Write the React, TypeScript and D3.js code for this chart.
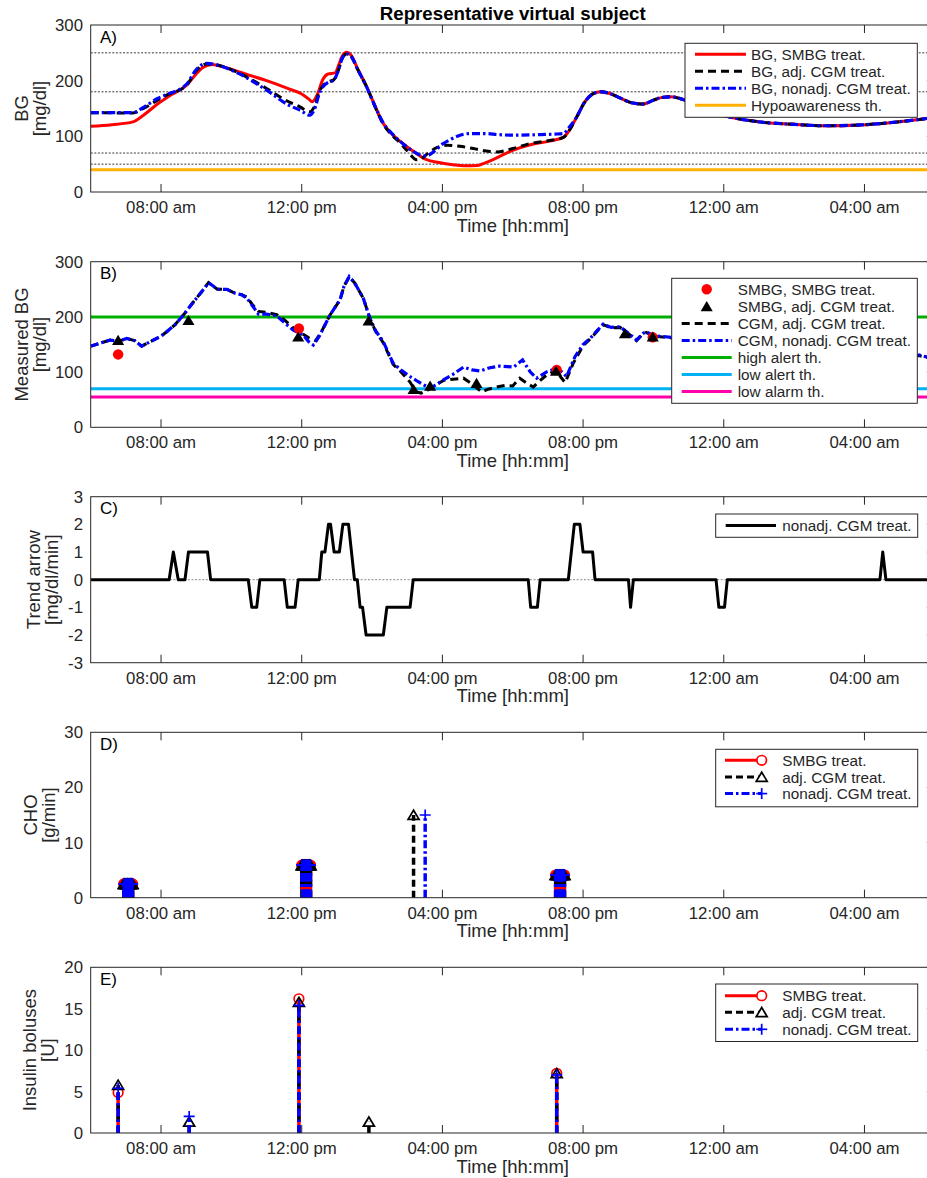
import React from 'react';
import * as d3 from 'd3';

type Pt = [number, number];

// time axis, hours from midnight of the first day
const timeDomain: [number, number] = [6, 30];
const timeTicks = [8, 12, 16, 20, 24, 28];
const timeTickLabels = ['08:00 am', '12:00 pm', '04:00 pm', '08:00 pm', '12:00 am', '04:00 am'];

// A) blood glucose
const bgSmbgHead: Pt[] = [
  [6.0, 118], [6.6, 121], [7.2, 126], [7.5, 138], [7.9, 158], [8.3, 175], [8.73, 192], [9.0, 212],
  [9.2, 224], [9.45, 229], [9.8, 224], [10.4, 212], [11.0, 200], [11.6, 186], [12.0, 176], [12.2, 167],
  [12.3, 162], [12.45, 176], [12.6, 202], [12.75, 212], [12.95, 214], [13.05, 228], [13.15, 244],
  [13.28, 251], [13.4, 246], [13.6, 220], [13.85, 189], [14.1, 152], [14.3, 125], [14.55, 105],
  [14.8, 91], [15.2, 72], [15.55, 58], [15.9, 53], [16.3, 49], [16.6, 47], [17.0, 47.5], [17.2, 52],
  [17.5, 60], [18.0, 75], [18.5, 85], [19.0, 91], [19.44, 98], [19.6, 110],
];
const bgAdjHead: Pt[] = [
  [6.0, 142.5], [7.2, 142], [7.5, 150], [7.9, 165], [8.16, 174], [8.73, 192], [9.0, 218], [9.3, 230],
  [9.6, 228], [10.2, 214], [11.0, 186], [11.6, 163], [11.95, 153], [12.23, 144], [12.35, 152],
  [12.52, 183], [12.75, 198], [12.9, 201], [13.05, 220], [13.15, 240], [13.28, 248], [13.4, 244],
  [13.6, 219], [13.85, 188], [14.1, 151], [14.3, 124], [14.55, 103], [14.8, 88], [15.0, 74],
  [15.27, 58], [15.4, 60], [15.6, 70], [15.85, 80], [16.12, 84], [16.5, 82], [16.88, 78], [17.2, 74],
  [17.54, 72], [18.0, 78], [18.49, 87], [19.0, 92], [19.44, 98], [19.6, 110],
];
const bgNonadjHead: Pt[] = [
  [6.0, 142.5], [7.2, 142.5], [7.5, 152], [7.9, 168], [8.16, 175], [8.73, 194], [9.0, 220], [9.3, 231],
  [9.6, 228], [10.2, 213], [11.0, 183], [11.6, 157], [11.95, 147], [12.23, 138], [12.35, 147],
  [12.52, 180], [12.75, 197], [12.9, 200], [13.05, 220], [13.15, 240], [13.28, 248], [13.4, 244],
  [13.6, 219], [13.85, 188], [14.1, 152], [14.3, 126], [14.55, 106], [14.8, 91], [15.1, 76],
  [15.35, 67], [15.55, 65], [15.8, 75], [16.0, 86], [16.22, 94], [16.5, 102], [16.79, 105],
  [17.2, 105], [17.6, 103], [18.0, 102], [18.7, 103], [19.2, 104], [19.44, 105], [19.6, 116],
];
const bgCommonTail: Pt[] = [
  [19.82, 135], [20.05, 162], [20.3, 177], [20.5, 180], [20.8, 176], [21.05, 169], [21.4, 160],
  [21.7, 158], [22.0, 165], [22.25, 170], [22.5, 171], [22.8, 167], [23.2, 156], [23.6, 145],
  [24.08, 136], [25.0, 126], [26.0, 121.5], [26.9, 119], [27.9, 120.5], [28.8, 125], [29.77, 132], [30.0, 134],
];
const bgDottedLevels = [250, 180, 70, 50];
const hypoawarenessTh = 40;

// B) measured glucose
const cgmNonadj: Pt[] = [
  [6.0, 147], [6.3, 153], [6.55, 158], [6.8, 156], [7.02, 161], [7.25, 157], [7.45, 147], [7.6, 152],
  [7.78, 158], [8.0, 165], [8.16, 173], [8.4, 186], [8.63, 203], [8.92, 227], [9.15, 245], [9.35, 262],
  [9.5, 255], [9.6, 250], [9.87, 250], [10.1, 243], [10.3, 240], [10.44, 234], [10.6, 220], [10.77, 205],
  [11.0, 205], [11.29, 202], [11.5, 190], [11.76, 176], [12.05, 167], [12.2, 155], [12.33, 149],
  [12.5, 165], [12.8, 203], [13.09, 231], [13.2, 255], [13.35, 273], [13.5, 262], [13.75, 234],
  [13.94, 197], [14.1, 175], [14.32, 155], [14.6, 116], [14.8, 105], [15.08, 92], [15.3, 83],
  [15.46, 77], [15.65, 71], [15.85, 78], [16.03, 86], [16.3, 96], [16.6, 109], [16.85, 104],
  [17.07, 102], [17.35, 108], [17.64, 111], [17.85, 110], [18.02, 109], [18.28, 122], [18.5, 100],
  [18.68, 89], [18.95, 100], [19.25, 107], [19.4, 100], [19.53, 92], [19.77, 128], [20.0, 150],
  [20.2, 161], [20.4, 175], [20.57, 187], [20.8, 181], [21.05, 182], [21.3, 170], [21.52, 158],
  [21.7, 170], [21.8, 173], [22.0, 166], [22.19, 165], [22.5, 163], [23.5, 140], [24.5, 128],
  [26.0, 120], [27.5, 121], [28.8, 126], [29.55, 131], [29.8, 127], [30.0, 126],
];
const cgmAdj: Pt[] = [
  [6.0, 147], [6.3, 153], [6.55, 158], [6.8, 156], [7.02, 161], [7.25, 157], [7.45, 147], [7.6, 152],
  [7.78, 158], [8.0, 165], [8.16, 173], [8.4, 186], [8.63, 203], [8.92, 227], [9.15, 245], [9.35, 262],
  [9.5, 255], [9.6, 250], [9.87, 250], [10.1, 243], [10.3, 240], [10.44, 236], [10.6, 222], [10.77, 210],
  [11.0, 208], [11.29, 204], [11.5, 195], [11.76, 180], [12.05, 168], [12.2, 162], [12.4, 157],
  [12.6, 178], [12.8, 203], [13.09, 231], [13.2, 255], [13.35, 273], [13.5, 262], [13.75, 234],
  [13.94, 197], [14.1, 174], [14.32, 153], [14.6, 114], [14.8, 102], [15.08, 82], [15.25, 64],
  [15.4, 62], [15.6, 68], [15.85, 78], [16.03, 85], [16.3, 87], [16.6, 89], [16.85, 78], [17.12, 64],
  [17.3, 69], [17.54, 73], [17.8, 76], [18.0, 75], [18.2, 89], [18.4, 80], [18.58, 73], [18.8, 86],
  [18.97, 95], [19.25, 104], [19.35, 92], [19.49, 81], [19.72, 116], [20.0, 148], [20.2, 160],
  [20.4, 174], [20.57, 186], [20.8, 180], [21.05, 181], [21.3, 169], [21.52, 157], [21.7, 169],
  [21.8, 172], [22.0, 165], [22.19, 164], [22.5, 162], [23.5, 139], [24.5, 127], [26.0, 119],
  [27.5, 120], [28.8, 125], [29.55, 130], [29.8, 126], [30.0, 125],
];
const smbgSmbgTimes = [6.78, 11.92, 19.25, 21.98];
const smbgSmbgValues = [132, 179, 104, 163];
const smbgAdjTimes = [6.78, 8.78, 11.9, 13.9, 15.18, 15.65, 16.97, 19.23, 21.19, 21.98];
const smbgAdjValues = [158, 194, 164, 193, 69, 75, 80, 102, 170, 164];
const highAlertTh = 200;
const lowAlertTh = 70;
const lowAlarmTh = 55;

// C) trend arrow
const trendArrow: Pt[] = [
  [6, 0], [8.23, 0], [8.35, 1], [8.49, 0], [8.68, 0], [8.78, 1], [9.32, 1], [9.41, 0], [10.48, 0],
  [10.58, -1], [10.72, -1], [10.81, 0], [11.5, 0], [11.59, -1], [11.81, -1], [11.9, 0], [12.5, 0],
  [12.57, 1], [12.66, 1], [12.76, 2], [12.82, 2], [12.92, 1], [13.07, 1], [13.17, 2], [13.33, 2],
  [13.5, 0], [13.58, 0], [13.66, -1], [13.73, -1], [13.83, -2], [14.32, -2], [14.42, -1], [15.08, -1],
  [15.17, 0], [18.44, 0], [18.51, -1], [18.7, -1], [18.78, 0], [19.58, 0], [19.75, 2], [19.91, 2],
  [20.0, 1], [20.27, 1], [20.34, 0], [21.29, 0], [21.35, -1], [21.43, 0], [23.78, 0], [23.86, -1],
  [24.02, -1], [24.1, 0], [28.44, 0], [28.52, 1], [28.61, 0], [30, 0],
];

// D) carbohydrate intake: start time [h], duration [min], rate [g/min]
const choSmbgStart = [6.94, 12.0, 19.22];
const choSmbgMinutes = [16, 16, 16];
const choSmbgRate = [2.5, 5.9, 4.1];
const choAdjStart = [6.94, 12.0, 15.18, 19.22];
const choAdjMinutes = [16, 16, 1, 16];
const choAdjRate = [2.5, 5.9, 15, 4.1];
const choNonadjStart = [6.94, 12.0, 15.51, 19.22];
const choNonadjMinutes = [16, 16, 1, 16];
const choNonadjRate = [2.5, 5.9, 15, 4.1];

// E) insulin boluses
const bolusSmbgTimes = [6.78, 11.92, 19.25];
const bolusSmbgU = [4.9, 16.2, 7.2];
const bolusAdjTimes = [6.78, 8.8, 11.92, 13.91, 19.25];
const bolusAdjU = [5.8, 1.35, 15.8, 1.35, 7.2];
const bolusNonadjTimes = [6.78, 8.8, 11.92, 19.25];
const bolusNonadjU = [5.4, 2.0, 15.4, 7.0];

const W = 927;
const H = 1178;
const X0 = 90.7;
const X1 = 934.8;
const FONT = '"Liberation Sans", Arial, Helvetica, sans-serif';
const INK = '#262626';
const RED = '#ff0000';
const BLUE = '#0000ff';
const DASH = '8,5';
const DASHDOT = '8,3,2.5,3';

const x = d3.scaleLinear().domain(timeDomain).range([X0, X1]);

const tri = (cx: number, cy: number, s = 1) =>
  `M${cx},${cy - 4.8 * s}L${cx + 5.5 * s},${cy + 4.4 * s}L${cx - 5.5 * s},${cy + 4.4 * s}Z`;

function Plus({ cx, cy }: { cx: number; cy: number }) {
  return (
    <g stroke={BLUE} strokeWidth={1.7}>
      <line x1={cx - 5.5} x2={cx + 5.5} y1={cy} y2={cy} />
      <line x1={cx} x2={cx} y1={cy - 5.5} y2={cy + 5.5} />
    </g>
  );
}

function Frame(props: {
  id: string; top: number; bottom: number; y: d3.ScaleLinear<number, number>;
  ticks: number[]; label: [string, string]; lx: number; letter: string;
  children: React.ReactNode; legend?: React.ReactNode;
}) {
  const { id, top, bottom, y, ticks, label, lx, letter } = props;
  const cy = (top + bottom) / 2;
  return (
    <g fontFamily={FONT} fill={INK}>
      <defs>
        <clipPath id={id}>
          <rect x={X0} y={top} width={X1 - X0} height={bottom - top} />
        </clipPath>
      </defs>
      <g clipPath={`url(#${id})`}>{props.children}</g>
      <rect x={X0} y={top} width={X1 - X0} height={bottom - top} fill="none" stroke={INK} strokeWidth={1} />
      {timeTicks.map((t) => (
        <g key={t} stroke={INK} strokeWidth={1}>
          <line x1={x(t)} x2={x(t)} y1={top} y2={top + 8} />
          <line x1={x(t)} x2={x(t)} y1={bottom} y2={bottom - 8} />
        </g>
      ))}
      {ticks.map((v) => (
        <line key={'r' + v} x1={X1 - 8} x2={X1} y1={y(v)} y2={y(v)} stroke={INK} strokeWidth={1} />
      ))}
      {ticks.map((v) => (
        <text key={'l' + v} x={83} y={y(v)} dy="0.36em" textAnchor="end" fontSize={16.8}>
          {String(v)}
        </text>
      ))}
      {timeTicks.map((t, i) => (
        <text key={'t' + t} x={x(t)} y={bottom + 21} textAnchor="middle" fontSize={16.8}>
          {timeTickLabels[i]}
        </text>
      ))}
      <text x={(X0 + X1) / 2} y={bottom + 39.5} textAnchor="middle" fontSize={18.5}>Time [hh:mm]</text>
      <text transform={`translate(${lx - 18},${cy}) rotate(-90)`} textAnchor="middle" fontSize={18.5}>{label[0]}</text>
      <text transform={`translate(${lx},${cy}) rotate(-90)`} textAnchor="middle" fontSize={18.5}>{label[1]}</text>
      <text x={100} y={top + 17.5} fontSize={17} fill="#000">{letter}</text>
      {props.legend}
    </g>
  );
}

function LegendBox({ x0, x1, y0, y1, children }: { x0: number; x1: number; y0: number; y1: number; children: React.ReactNode }) {
  return (
    <g fontFamily={FONT}>
      <rect x={x0} y={y0} width={x1 - x0} height={y1 - y0} fill="#fff" stroke={INK} strokeWidth={1} />
      {children}
    </g>
  );
}

function stemsOf(starts: number[], minutes: number[], rates: number[]) {
  const out: Pt[] = [];
  starts.forEach((s, i) => {
    for (let m = 0; m < minutes[i]; m++) out.push([s + m / 60, rates[i]]);
  });
  return out;
}

function StemSet(props: { pts: Pt[]; y: d3.ScaleLinear<number, number>; kind: 'smbg' | 'adj' | 'nonadj' }) {
  const { pts, y, kind } = props;
  const y0 = y(0);
  const color = kind === 'smbg' ? RED : kind === 'adj' ? '#000' : BLUE;
  const dash = kind === 'smbg' ? undefined : kind === 'adj' ? '7,4' : DASHDOT;
  return (
    <g>
      {pts.map((p, i) => (
        <line key={'s' + i} x1={x(p[0])} x2={x(p[0])} y1={y0} y2={y(p[1])} stroke={color}
          strokeWidth={3.5} strokeDasharray={dash} />
      ))}
      {pts.map((p, i) =>
        kind === 'smbg' ? (
          <circle key={'m' + i} cx={x(p[0])} cy={y(p[1])} r={4.8} fill="none" stroke={RED} strokeWidth={1.7} />
        ) : kind === 'adj' ? (
          <path key={'m' + i} d={tri(x(p[0]), y(p[1]))} fill="none" stroke="#000" strokeWidth={1.7} />
        ) : (
          <Plus key={'m' + i} cx={x(p[0])} cy={y(p[1])} />
        )
      )}
    </g>
  );
}

function TreatLegend({ y0, rows }: { y0: number; rows: number[] }) {
  const lx0 = 725;
  const lx1 = 761.7;
  const tx = 782.3;
  return (
    <LegendBox x0={715.7} x1={917.7} y0={y0} y1={y0 + 57.5}>
      <line x1={lx0} x2={lx1} y1={rows[0]} y2={rows[0]} stroke={RED} strokeWidth={3} />
      <circle cx={lx1} cy={rows[0]} r={4.8} fill="#fff" stroke={RED} strokeWidth={1.7} />
      <line x1={lx0} x2={lx1} y1={rows[1]} y2={rows[1]} stroke="#000" strokeWidth={3} strokeDasharray="7,4" />
      <path d={tri(lx1, rows[1])} fill="#fff" stroke="#000" strokeWidth={1.7} />
      <line x1={lx0} x2={lx1} y1={rows[2]} y2={rows[2]} stroke={BLUE} strokeWidth={3} strokeDasharray={DASHDOT} />
      <Plus cx={lx1} cy={rows[2]} />
      {['SMBG treat.', 'adj. CGM treat.', 'nonadj. CGM treat.'].map((s, i) => (
        <text key={s} x={tx} y={rows[i]} dy="0.36em" fontSize={15.3} fill={INK}>{s}</text>
      ))}
    </LegendBox>
  );
}

export default function App() {
  // A
  const yA = d3.scaleLinear().domain([0, 300]).range([192, 25]);
  const lineA = d3.line<Pt>().x((d) => x(d[0])).y((d) => yA(d[1])).curve(d3.curveMonotoneX);
  // B
  const yB = d3.scaleLinear().domain([0, 300]).range([427.3, 261.7]);
  const lineB = d3.line<Pt>().x((d) => x(d[0])).y((d) => yB(d[1]));
  // C
  const yC = d3.scaleLinear().domain([-3, 3]).range([662.7, 496.7]);
  const lineC = d3.line<Pt>().x((d) => x(d[0])).y((d) => yC(d[1]));
  // D
  const yD = d3.scaleLinear().domain([0, 30]).range([897.7, 732.3]);
  // E
  const yE = d3.scaleLinear().domain([0, 20]).range([1133, 967.3]);

  const hline = (y: number, color: string, w: number, dash?: string, key?: string) => (
    <line key={key} x1={X0} x2={X1} y1={y} y2={y} stroke={color} strokeWidth={w} strokeDasharray={dash} />
  );

  const aRows = [54.3, 71.2, 88.2, 105.2];
  const bRows = [289.3, 306.4, 323.4, 340.4, 357.5, 374.6, 391.6];

  return (
    <svg width={W} height={H} viewBox={`0 0 ${W} ${H}`}
      style={{ position: 'absolute', left: 0, top: 0, background: '#fff' }}>
      <rect x={0} y={0} width={W} height={H} fill="#fff" />
      <text x={(X0 + X1) / 2} y={19.5} textAnchor="middle" fontFamily={FONT} fontWeight="bold" fontSize={18.7} fill="#000">
        Representative virtual subject
      </text>

      {/* A */}
      <Frame id="clipA" top={25} bottom={192} y={yA} ticks={[0, 100, 200, 300]} label={['BG', '[mg/dl]']} lx={45.5} letter="A)"
        legend={
          <LegendBox x0={685} x1={917.3} y0={43.3} y1={117.3}>
            <line x1={695} x2={746} y1={aRows[0]} y2={aRows[0]} stroke={RED} strokeWidth={3} />
            <line x1={695} x2={746} y1={aRows[1]} y2={aRows[1]} stroke="#000" strokeWidth={3} strokeDasharray={DASH} />
            <line x1={695} x2={746} y1={aRows[2]} y2={aRows[2]} stroke={BLUE} strokeWidth={3} strokeDasharray={DASHDOT} />
            <line x1={695} x2={746} y1={aRows[3]} y2={aRows[3]} stroke="#ffb000" strokeWidth={3} />
            {['BG, SMBG treat.', 'BG, adj. CGM treat.', 'BG, nonadj. CGM treat.', 'Hypoawareness th.'].map((s, i) => (
              <text key={s} x={751} y={aRows[i]} dy="0.36em" fontSize={15.3} fill={INK}>{s}</text>
            ))}
          </LegendBox>
        }>
        {bgDottedLevels.map((v) => hline(yA(v), '#222', 0.9, '2,1.6', 'd' + v))}
        {hline(yA(hypoawarenessTh), '#ffb000', 3)}
        <path d={lineA(bgSmbgHead.concat(bgCommonTail)) || ''} fill="none" stroke={RED} strokeWidth={3} />
        <path d={lineA(bgAdjHead.concat(bgCommonTail)) || ''} fill="none" stroke="#000" strokeWidth={3} strokeDasharray={DASH} />
        <path d={lineA(bgNonadjHead.concat(bgCommonTail)) || ''} fill="none" stroke={BLUE} strokeWidth={3.2} strokeDasharray={DASHDOT} />
      </Frame>

      {/* B */}
      <Frame id="clipB" top={261.7} bottom={427.3} y={yB} ticks={[0, 100, 200, 300]} label={['Measured BG', '[mg/dl]']} lx={45.5} letter="B)"
        legend={
          <LegendBox x0={671.7} x1={917.3} y0={278.3} y1={403.3}>
            <circle cx={706.7} cy={bRows[0]} r={5.2} fill={RED} />
            <path d={tri(706.7, bRows[1], 1.1)} fill="#000" />
            <line x1={681.7} x2={731.7} y1={bRows[2]} y2={bRows[2]} stroke="#000" strokeWidth={3} strokeDasharray={DASH} />
            <line x1={681.7} x2={731.7} y1={bRows[3]} y2={bRows[3]} stroke={BLUE} strokeWidth={3} strokeDasharray={DASHDOT} />
            <line x1={681.7} x2={731.7} y1={bRows[4]} y2={bRows[4]} stroke="#00b000" strokeWidth={3} />
            <line x1={681.7} x2={731.7} y1={bRows[5]} y2={bRows[5]} stroke="#00b2f5" strokeWidth={3} />
            <line x1={681.7} x2={731.7} y1={bRows[6]} y2={bRows[6]} stroke="#ff00aa" strokeWidth={3} />
            {['SMBG, SMBG treat.', 'SMBG, adj. CGM treat.', 'CGM, adj. CGM treat.', 'CGM, nonadj. CGM treat.',
              'high alert th.', 'low alert th.', 'low alarm th.'].map((s, i) => (
              <text key={s} x={737.7} y={bRows[i]} dy="0.36em" fontSize={15.3} fill={INK}>{s}</text>
            ))}
          </LegendBox>
        }>
        {hline(yB(highAlertTh), '#00b000', 3)}
        {hline(yB(lowAlertTh), '#00b2f5', 3)}
        {hline(yB(lowAlarmTh), '#ff00aa', 3)}
        <path d={lineB(cgmAdj) || ''} fill="none" stroke="#000" strokeWidth={3} strokeDasharray={DASH} />
        <path d={lineB(cgmNonadj) || ''} fill="none" stroke={BLUE} strokeWidth={3.2} strokeDasharray={DASHDOT} />
        {smbgSmbgTimes.map((t, i) => (
          <circle key={'r' + i} cx={x(t)} cy={yB(smbgSmbgValues[i])} r={5.2} fill={RED} />
        ))}
        {smbgAdjTimes.map((t, i) => (
          <path key={'k' + i} d={tri(x(t), yB(smbgAdjValues[i]), 1.1)} fill="#000" />
        ))}
      </Frame>

      {/* C */}
      <Frame id="clipC" top={496.7} bottom={662.7} y={yC} ticks={[-3, -2, -1, 0, 1, 2, 3]} label={['Trend arrow', '[mg/dl/min]']} lx={58} letter="C)"
        legend={
          <LegendBox x0={715.7} x1={917.7} y0={514} y1={537.3}>
            <line x1={725.7} x2={776} y1={525.6} y2={525.6} stroke="#000" strokeWidth={3} />
            <text x={782.3} y={525.6} dy="0.36em" fontSize={15.3} fill={INK}>nonadj. CGM treat.</text>
          </LegendBox>
        }>
        {hline(yC(0), '#888', 1, '2,1.6')}
        <path d={lineC(trendArrow) || ''} fill="none" stroke="#000" strokeWidth={3} strokeLinejoin="round" />
      </Frame>

      {/* D */}
      <Frame id="clipD" top={732.3} bottom={897.7} y={yD} ticks={[0, 10, 20, 30]} label={['CHO', '[g/min]']} lx={54.5} letter="D)"
        legend={<TreatLegend y0={749.3} rows={[760.3, 777, 793.6]} />}>
        <StemSet pts={stemsOf(choSmbgStart, choSmbgMinutes, choSmbgRate)} y={yD} kind="smbg" />
        <StemSet pts={stemsOf(choAdjStart, choAdjMinutes, choAdjRate)} y={yD} kind="adj" />
        <StemSet pts={stemsOf(choNonadjStart, choNonadjMinutes, choNonadjRate)} y={yD} kind="nonadj" />
      </Frame>

      {/* E */}
      <Frame id="clipE" top={967.3} bottom={1133} y={yE} ticks={[0, 5, 10, 15, 20]} label={['Insulin boluses', '[U]']} lx={53.5} letter="E)"
        legend={<TreatLegend y0={984} rows={[995.7, 1012.3, 1029.3]} />}>
        <StemSet pts={bolusSmbgTimes.map((t, i) => [t, bolusSmbgU[i]] as Pt)} y={yE} kind="smbg" />
        <StemSet pts={bolusAdjTimes.map((t, i) => [t, bolusAdjU[i]] as Pt)} y={yE} kind="adj" />
        <StemSet pts={bolusNonadjTimes.map((t, i) => [t, bolusNonadjU[i]] as Pt)} y={yE} kind="nonadj" />
      </Frame>
    </svg>
  );
}
